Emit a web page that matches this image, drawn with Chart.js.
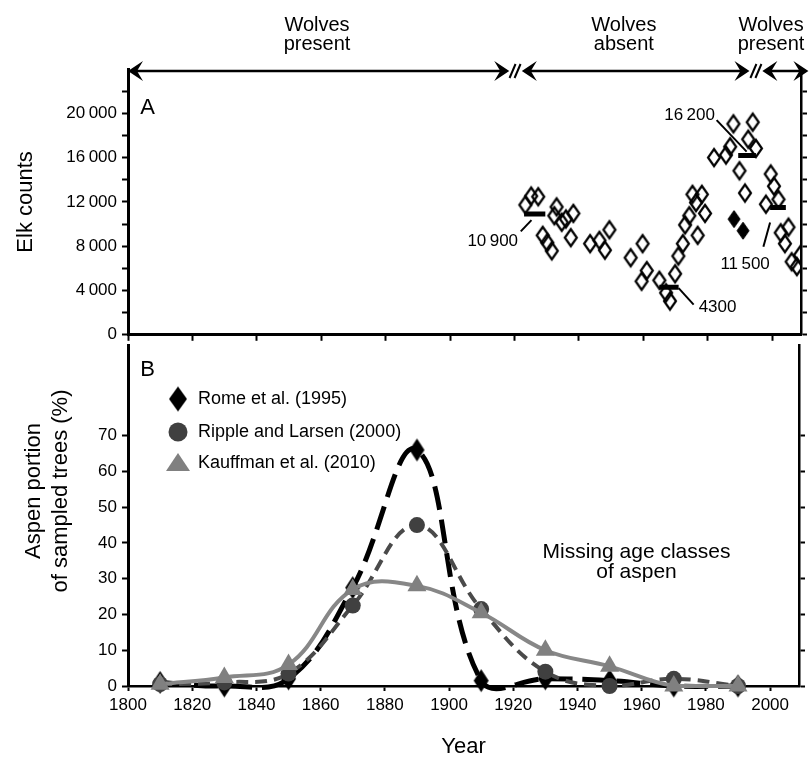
<!DOCTYPE html>
<html><head><meta charset="utf-8">
<script src="https://cdn.jsdelivr.net/npm/chart.js@4.4.1/dist/chart.umd.min.js"></script>
<style>
html,body{margin:0;padding:0;background:#fff;}
#wrap{position:relative;width:810px;height:758px;overflow:hidden;background:#fff;}
#cA{position:absolute;left:0;top:0;}
#cB{position:absolute;left:0;top:330px;}
</style></head><body>
<div id="wrap"><canvas id="cA" width="810" height="350"></canvas><canvas id="cB" width="810" height="428"></canvas></div>
<script>
// ---------- Panel A data: elk counts ----------
const elkYears = [1923.4,1925.2,1927.4,1928.8,1930.2,1931.6,1932.4,1933.1,1934.7,1936.0,1937.5,1938.3,
  1943.5,1946.4,1948.1,1949.5,1956.1,1959.5,1959.8,1961.1,1965.0,1967.1,1968.3,1969.9,1970.9,1972.3,
  1973.0,1974.3,1975.3,1976.4,1976.9,1978.2,1979.2,1982.0,1985.7,1987.0,1988.0,1989.9,1991.6,1992.6,
  1994.0,1995.0,1998.1,1999.6,2000.6,2002.0,2002.7,2004.0,2005.1,2006.1,2007.7,2008.7];
const elkCounts = [11730,12530,12470,8980,8320,7580,10750,11550,10160,10460,8770,10960,
  8230,8530,7640,9480,6960,4830,8230,5800,4920,3790,3050,5510,7110,8230,
  9920,10750,12680,11940,8980,12680,10960,16000,16230,16980,19050,14810,12800,17660,
  19200,16830,11790,14520,13420,12230,9210,8230,9720,6600,6160,7200];
const elkOtherYears = [1988.2, 1991.0];
const elkOtherCounts = [10450, 9400];
const meanStart = [1923.0, 1965.0, 1989.5, 1999.4];
const meanEnd = [1929.6, 1971.0, 1995.0, 2004.3];
const meanValues = [10900, 4300, 16200, 11500];
const meanLabels = ['10\u2009900', '4300', '16\u2009200', '11\u2009500'];
const elkTickLabels = [0, 4000, 8000, 12000, 16000, 20000];
const elkTickMarks = [0, 2000, 4000, 6000, 8000, 10000, 12000, 14000, 16000, 18000, 20000, 22000];

// wolf periods
const wolfFrom = [1800, 1922.3, 1997.0];
const wolfTo = [1918.4, 1993.0, 2011.3];
const wolfBreaks = [1920.2, 1995.0];
const wolfLabelYears = [1858.7, 1954.0, 1999.7];
const wolfLabels = [['Wolves','present'], ['Wolves','absent'], ['Wolves','present']];

// ---------- Panel B data: aspen ----------
const ageYears = [1810, 1830, 1850, 1870, 1890, 1910, 1930, 1950, 1970, 1990];
const romeValues = [1, 0, 2, 27.5, 66, 1.5, 2, 1.5, 0, 0];
const rippleValues = [0.5, 1, 3.5, 22.5, 45, 21.5, 4, 0, 2, 0];
const kauffmanValues = [0.5, 2.4, 6, 27, 28, 20.5, 10, 5.5, 0, 0];
const seriesNames = ['Rome et al. (1995)', 'Ripple and Larsen (2000)', 'Kauffman et al. (2010)'];
const aspenTickLabels = [0, 10, 20, 30, 40, 50, 60, 70];
const yearTickLabels = [1800, 1820, 1840, 1860, 1880, 1900, 1920, 1940, 1960, 1980, 2000];

const FONT = 'Liberation Sans, Arial, Helvetica, sans-serif';
Chart.defaults.font.family = FONT;
Chart.defaults.color = '#000';

function fmtThousands(v){ return String(v).replace(/\B(?=(\d{3})+(?!\d))/g, '\u2009'); }

function makeDiamond(w, h, filled, lw){
  const pad = Math.ceil(lw/2) + 1;
  const c = document.createElement('canvas');
  c.width = w + pad*2; c.height = h + pad*2;
  const g = c.getContext('2d');
  const cx = c.width/2, cy = c.height/2;
  g.beginPath(); g.moveTo(cx, cy-h/2); g.lineTo(cx+w/2, cy); g.lineTo(cx, cy+h/2); g.lineTo(cx-w/2, cy); g.closePath();
  if (filled){ g.fillStyle = '#000'; g.fill(); }
  if (lw > 0){ g.lineWidth = lw; g.strokeStyle = '#000'; g.stroke(); }
  return c;
}
const diamondOpen = makeDiamond(12, 17, false, 2.2);
const diamondFilledA = makeDiamond(12, 17, true, 1);
const diamondRome = makeDiamond(15, 23, true, 0);
const diamondLegend = makeDiamond(18, 25, true, 0);

function axisY(opts){
  return Object.assign({
    grid: {display: true, drawOnChartArea: false, drawTicks: true, tickLength: 6, tickWidth: 2, tickColor: '#000', color: '#000'},
    border: {display: true, color: '#000', width: 3}
  }, opts);
}

// ---------- Chart A ----------
const arrowsPlugin = {
  id: 'panelAExtras',
  afterDraw(chart){
    const ctx = chart.ctx, xs = chart.scales.x, ys = chart.scales.y;
    const px = v => xs.getPixelForValue(v), py = v => ys.getPixelForValue(v);
    ctx.save();
    const y = 71;
    function head(tx, d){
      ctx.beginPath(); ctx.moveTo(tx, y); ctx.lineTo(tx - d*15, y - 10); ctx.lineTo(tx - d*9, y); ctx.lineTo(tx - d*15, y + 10); ctx.closePath(); ctx.fill();
    }
    ctx.fillStyle = '#000'; ctx.strokeStyle = '#000';
    for (let i = 0; i < wolfFrom.length; i++){
      const a = px(wolfFrom[i]), b = px(wolfTo[i]);
      ctx.lineWidth = 2.5; ctx.beginPath(); ctx.moveTo(a + 6, y); ctx.lineTo(b - 6, y); ctx.stroke();
      head(a, -1); head(b, 1);
    }
    ctx.lineWidth = 2;
    wolfBreaks.forEach(v => {
      const cx = px(v);
      [-2.5, 2.5].forEach(o => { ctx.beginPath(); ctx.moveTo(cx + o - 3, y + 7); ctx.lineTo(cx + o + 3, y - 7); ctx.stroke(); });
    });
    ctx.font = '20px ' + FONT; ctx.textAlign = 'center'; ctx.textBaseline = 'alphabetic';
    wolfLabels.forEach((lines, i) => {
      const cx = px(wolfLabelYears[i]);
      ctx.fillText(lines[0], cx, 31); ctx.fillText(lines[1], cx, 50);
    });
    ctx.font = '22px ' + FONT; ctx.textAlign = 'center';
    ctx.fillText('A', 147.5, 114);
    ctx.save(); ctx.translate(26, (chart.chartArea.top + chart.chartArea.bottom)/2); ctx.rotate(-Math.PI/2);
    ctx.textBaseline = 'middle'; ctx.fillText('Elk counts', 0, 0); ctx.restore();
    ctx.font = '17px ' + FONT; ctx.textBaseline = 'middle'; ctx.lineWidth = 2;
    const line = (x1,y1,x2,y2) => { ctx.beginPath(); ctx.moveTo(x1,y1); ctx.lineTo(x2,y2); ctx.stroke(); };
    let L = px(meanStart[0]), Y = py(meanValues[0]);
    line(L - 3.3, Y + 17.3, L + 7.4, Y + 6); ctx.textAlign = 'right'; ctx.fillText(meanLabels[0], L - 6, Y + 27);
    let R = px(meanEnd[1]); Y = py(meanValues[1]);
    line(R, Y + 1, R + 15, Y + 17.4); ctx.textAlign = 'left'; ctx.fillText(meanLabels[1], R + 20, Y + 20);
    R = px(meanEnd[2]); Y = py(meanValues[2]);
    line(R - 9.3, Y - 3.7, R - 39.3, Y - 35.3); ctx.textAlign = 'right'; ctx.fillText(meanLabels[2], R - 41, Y - 40);
    L = px(meanStart[3]); Y = py(meanValues[3]);
    line(L, Y + 15, L - 6.7, Y + 39.4); ctx.textAlign = 'center'; ctx.fillText(meanLabels[3], L - 25, Y + 57);
    ctx.restore();
  }
};

const meanDatasets = meanValues.map((v, i) => ({
  data: [{x: meanStart[i], y: v}, {x: meanEnd[i], y: v}],
  showLine: true, borderColor: '#000', borderWidth: 5, pointRadius: 0, borderCapStyle: 'butt'
}));

new Chart(document.getElementById('cA'), {
  type: 'scatter',
  data: {datasets: [
    {data: elkYears.map((x, i) => ({x, y: elkCounts[i]})), pointStyle: diamondOpen, pointRadius: 6},
    {data: elkOtherYears.map((x, i) => ({x, y: elkOtherCounts[i]})), pointStyle: diamondFilledA, pointRadius: 6},
    ...meanDatasets
  ]},
  options: {
    responsive: false, animation: false, events: [],
    layout: {padding: {top: 69, left: 0, right: 0, bottom: 0}},
    plugins: {legend: {display: false}, tooltip: {enabled: false}},
    scales: {
      x: {type: 'linear', position: 'bottom', min: 1800, max: 2009,
        afterFit(s){ s.height = 10; },
        ticks: {display: false, stepSize: 20, includeBounds: false},
        grid: {display: true, drawOnChartArea: false, drawTicks: true, tickLength: 6, tickWidth: 2, tickColor: '#000'},
        border: {display: true, color: '#000', width: 3}},
      y: axisY({type: 'linear', position: 'left', min: 0, max: 24000,
        afterFit(s){ s.width = 128; },
        afterBuildTicks(s){ s.ticks = elkTickMarks.map(v => ({value: v})); },
        ticks: {padding: 5, color: '#000', font: {size: 17},
          callback: v => elkTickLabels.includes(v) ? fmtThousands(v) : ''}}),
      yR: axisY({type: 'linear', position: 'right', min: 0, max: 24000,
        afterFit(s){ s.width = 9; },
        afterBuildTicks(s){ s.ticks = elkTickMarks.map(v => ({value: v})); },
        ticks: {display: false},
        border: {display: true, color: '#000', width: 2.5}})
    }
  },
  plugins: [arrowsPlugin]
});

// ---------- Chart B ----------
const panelBPlugin = {
  id: 'panelBExtras',
  afterDraw(chart){
    const ctx = chart.ctx;
    const off = 330;
    ctx.save();
    ctx.fillStyle = '#000';
    ctx.font = '22px ' + FONT; ctx.textAlign = 'center'; ctx.textBaseline = 'alphabetic';
    ctx.fillText('B', 147.5, 375.5 - off);
    ctx.save(); ctx.translate(34, 491 - off); ctx.rotate(-Math.PI/2); ctx.textBaseline = 'middle';
    ctx.fillText('Aspen portion', 0, 0); ctx.fillText('of sampled trees (%)', 0, 27); ctx.restore();
    ctx.fillText('Year', (chart.chartArea.left + chart.chartArea.right)/2, 753 - off);
    ctx.font = '21px ' + FONT;
    ctx.fillText('Missing age classes', 636.5, 558 - off);
    ctx.fillText('of aspen', 636.5, 578 - off);
    const ly = [399, 432, 463].map(v => v - off);
    const mx = 178, tx = 198;
    ctx.font = '18px ' + FONT; ctx.textAlign = 'left'; ctx.textBaseline = 'middle';
    const ds = chart.data.datasets;
    ctx.drawImage(diamondLegend, mx - diamondLegend.width/2, ly[0] - diamondLegend.height/2);
    ctx.fillStyle = '#000'; ctx.fillText(ds[0].label, tx, ly[0]);
    ctx.fillStyle = ds[1].pointBackgroundColor; ctx.beginPath(); ctx.arc(mx, ly[1], 9.5, 0, Math.PI*2); ctx.fill();
    ctx.fillStyle = '#000'; ctx.fillText(ds[1].label, tx, ly[1]);
    ctx.fillStyle = ds[2].pointBackgroundColor; ctx.beginPath();
    ctx.moveTo(mx, ly[2] - 10); ctx.lineTo(mx + 12, ly[2] + 8); ctx.lineTo(mx - 12, ly[2] + 8); ctx.closePath(); ctx.fill();
    ctx.fillStyle = '#000'; ctx.fillText(ds[2].label, tx, ly[2]);
    ctx.restore();
  }
};

new Chart(document.getElementById('cB'), {
  type: 'line',
  data: {datasets: [
    {label: seriesNames[0], data: ageYears.map((x, i) => ({x, y: romeValues[i]})),
      borderColor: '#000', borderWidth: 5, borderDash: [24, 10], tension: 0.4, capBezierPoints: false, clip: false,
      pointStyle: diamondRome, pointRadius: 6, pointBackgroundColor: '#000', order: 2},
    {label: seriesNames[1], data: ageYears.map((x, i) => ({x, y: rippleValues[i]})),
      borderColor: '#4a4a4a', borderWidth: 4, borderDash: [12, 7], tension: 0.4, clip: false,
      pointStyle: 'circle', pointRadius: 8, pointBorderWidth: 0, pointBackgroundColor: '#404040', order: 1},
    {label: seriesNames[2], data: ageYears.map((x, i) => ({x, y: kauffmanValues[i]})),
      borderColor: '#878787', borderWidth: 4, tension: 0.4, clip: false,
      pointStyle: 'triangle', pointRadius: 11, pointBorderWidth: 0, pointBackgroundColor: '#808080', order: 0}
  ]},
  options: {
    responsive: false, animation: false, events: [],
    layout: {padding: {top: 10, left: 0, right: 0, bottom: 0}},
    plugins: {legend: {display: false}, tooltip: {enabled: false}},
    scales: {
      x: {type: 'linear', position: 'bottom', min: 1800, max: 2009,
        afterFit(s){ s.height = 72; },
        afterBuildTicks(s){ s.ticks = yearTickLabels.map(v => ({value: v})); },
        ticks: {padding: 4, color: '#000', font: {size: 17}, maxRotation: 0, autoSkip: false,
          callback: v => String(v)},
        grid: {display: true, drawOnChartArea: false, drawTicks: true, tickLength: 5, tickWidth: 2, tickColor: '#000'},
        border: {display: true, color: '#000', width: 2.5}},
      y: axisY({type: 'linear', position: 'left', min: 0, max: 95.3,
        afterFit(s){ s.width = 128; },
        afterBuildTicks(s){ s.ticks = aspenTickLabels.map(v => ({value: v})); },
        ticks: {padding: 5, color: '#000', font: {size: 17}, callback: v => String(v)}}),
      yR: axisY({type: 'linear', position: 'right', min: 0, max: 95.3,
        afterFit(s){ s.width = 9; },
        afterBuildTicks(s){ s.ticks = aspenTickLabels.map(v => ({value: v})); },
        ticks: {display: false},
        border: {display: true, color: '#000', width: 2.5}})
    }
  },
  plugins: [panelBPlugin]
});
</script>
</body></html>
